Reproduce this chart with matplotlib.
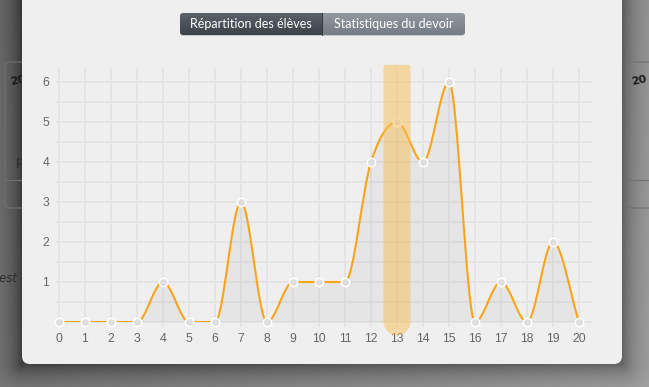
import numpy as np
import matplotlib
matplotlib.use("Agg")
import matplotlib.pyplot as plt
from matplotlib.path import Path
from matplotlib.patches import PathPatch, FancyBboxPatch, Polygon

# ---------------- data ----------------
grades = list(range(0, 21))
students = [0, 0, 0, 0, 1, 0, 0, 3, 0, 1, 1, 1, 4, 5, 4, 6, 0, 1, 0, 2, 0]
highlight_grade = 13
y_ticks = [1, 2, 3, 4, 5, 6]
tab_labels = ["Répartition des élèves", "Statistiques du devoir"]

W, H = 649, 387
fig = plt.figure(figsize=(W / 100, H / 100), dpi=100)
fig.patch.set_facecolor("#808080")

# ---------------- background (pixel coords, y down) ----------------
bg = fig.add_axes([0, 0, 1, 1])
bg.set_xlim(0, W)
bg.set_ylim(H, 0)
bg.axis("off")

px0, px1, py1 = 22, 622, 364
xx, yy = np.meshgrid(np.arange(W) + 0.5, np.arange(H) + 0.5)
dx = np.maximum(np.maximum(px0 - xx, xx - px1), 0)
dy = np.maximum(yy - py1, 0)
d = np.hypot(dx, dy)
base = 118 + 40 * (xx / W) + 10 * (yy / H)
val = base - 66 * np.exp(-d / 16.0)
img = np.clip(val, 0, 255) / 255.0
bg.imshow(np.dstack([img, img, img]), extent=(0, W, H, 0), interpolation="bilinear", zorder=0)

# faint page content behind the overlay
for (cx, cw) in [(5, 40), (627, 40)]:
    bg.add_patch(FancyBboxPatch((cx, 62), cw, 146, boxstyle="round,pad=0,rounding_size=4",
                                facecolor="none", edgecolor="#707070", lw=0.8, zorder=1))
    bg.plot([cx, cx + cw], [180, 180], color="#707070", lw=0.8, zorder=1)
bg.text(9, 80, "20", fontsize=8, fontweight="bold", color="#1a1a1a", rotation=12,
        va="center", ha="left", zorder=1)
bg.text(630, 80, "20", fontsize=8, fontweight="bold", color="#1a1a1a", rotation=12,
        va="center", ha="left", zorder=1)
bg.text(16, 161, "p", fontsize=8.5, color="#2a2a2a", va="center", ha="left", zorder=1)
bg.text(-1, 278, "est c", fontsize=8.5, style="italic", color="#2a2a2a", va="center", ha="left", zorder=1)

# modal panel
bg.add_patch(FancyBboxPatch((px0, -20), px1 - px0, py1 + 20,
                            boxstyle="round,pad=0,rounding_size=8",
                            facecolor="#efefef", edgecolor="none", zorder=2))

# segmented buttons
btn_y0, btn_y1 = 13, 35
bx0, bmid, bx1 = 180, 322, 465
bg.add_patch(FancyBboxPatch((bx0, btn_y0 + 1), bx1 - bx0, btn_y1 - btn_y0,
                            boxstyle="round,pad=0,rounding_size=3",
                            facecolor="#c8c8c8", edgecolor="none", zorder=3))

def grad_button(x0, x1, top_col, bot_col):
    g = np.linspace(0, 1, 40)[:, None]
    tc = np.array(matplotlib.colors.to_rgb(top_col))
    bc = np.array(matplotlib.colors.to_rgb(bot_col))
    arr = tc[None, None, :] * (1 - g[..., None]) + bc[None, None, :] * g[..., None]
    arr = np.repeat(arr, 2, axis=1)
    return bg.imshow(arr, extent=(x0, x1, btn_y1, btn_y0), aspect="auto", zorder=4,
                     interpolation="bilinear")

full = FancyBboxPatch((bx0, btn_y0), bx1 - bx0, btn_y1 - btn_y0,
                      boxstyle="round,pad=0,rounding_size=3",
                      facecolor="none", edgecolor="none", transform=bg.transData)
bg.add_patch(full)
im1 = grad_button(bx0, bmid, "#5c616a", "#3d4249")
im2 = grad_button(bmid, bx1, "#9297a0", "#767c85")
im1.set_clip_path(full)
im2.set_clip_path(full)
bg.plot([bmid, bmid], [btn_y0, btn_y1], color="#3a3e44", lw=0.8, zorder=5)
bg.text((bx0 + bmid) / 2, (btn_y0 + btn_y1) / 2 + 0.5, tab_labels[0], color="white",
        fontsize=9, family="Lato", ha="center", va="center", zorder=6)
bg.text((bmid + bx1) / 2, (btn_y0 + btn_y1) / 2 + 0.5, tab_labels[1], color="white",
        fontsize=9, family="Lato", ha="center", va="center", zorder=6)

# ---------------- chart ----------------
ax_l, ax_r, ax_t, ax_b = 56, 592, 68, 322
ax = fig.add_axes([ax_l / W, (H - ax_b) / H, (ax_r - ax_l) / W, (ax_b - ax_t) / H])
ax.set_facecolor("none")
for s in ax.spines.values():
    s.set_visible(False)
x_unit = 26.0
y_unit = 40.0
ax.set_xlim(-(59 - ax_l) / x_unit, (ax_r - 59) / x_unit)
ax.set_ylim(0, (ax_b - ax_t) / y_unit)

grid_col = "#e4e4e4"
xl, xr = ax.get_xlim()
yb, yt = ax.get_ylim()
for yv in np.arange(0, 6.01, 0.5):
    ax.plot([xl, xr], [yv, yv], color=grid_col, lw=1.4, zorder=1, clip_on=False,
            solid_capstyle="butt")
for xv in grades:
    ax.plot([xv, xv], [-5 / y_unit, yt], color=grid_col, lw=1.4, zorder=1, clip_on=False,
            solid_capstyle="butt")

# monotone cubic (Chart.js style) bezier through the data
xs = np.array(grades, dtype=float)
ys = np.array(students, dtype=float)
n = len(xs)
delta = np.diff(ys) / np.diff(xs)
m = np.zeros(n)
m[0] = delta[0]
m[-1] = delta[-1]
for i in range(1, n - 1):
    if np.sign(delta[i - 1]) != np.sign(delta[i]):
        m[i] = 0.0
    else:
        m[i] = (delta[i - 1] + delta[i]) / 2
for i in range(n - 1):
    if abs(delta[i]) < 1e-12:
        m[i] = m[i + 1] = 0.0
        continue
    a = m[i] / delta[i]
    b = m[i + 1] / delta[i]
    sq = a * a + b * b
    if sq <= 9:
        continue
    tau = 3 / np.sqrt(sq)
    m[i] = a * tau * delta[i]
    m[i + 1] = b * tau * delta[i]

verts = [(xs[0], ys[0])]
codes = [Path.MOVETO]
for i in range(n - 1):
    h = (xs[i + 1] - xs[i]) / 3
    verts += [(xs[i] + h, ys[i] + h * m[i]),
              (xs[i + 1] - h, ys[i + 1] - h * m[i + 1]),
              (xs[i + 1], ys[i + 1])]
    codes += [Path.CURVE4] * 3
line_path = Path(verts, codes)
fill_path = Path(verts + [(xs[-1], 0), (xs[0], 0), (xs[0], ys[0])],
                 codes + [Path.LINETO, Path.LINETO, Path.CLOSEPOLY])
ax.add_patch(PathPatch(fill_path, facecolor=(0, 0, 0, 0.04), edgecolor="none", zorder=2))
ax.add_patch(PathPatch(line_path, facecolor="none", edgecolor="#f9a51a", lw=1.5, zorder=3,
                       capstyle="round", joinstyle="round"))
ax.plot(xs, ys, linestyle="none", marker="o", markersize=6.0, markerfacecolor="#dedede",
        markeredgecolor="white", markeredgewidth=1.1, zorder=4, clip_on=False)

# ticks / labels
ax.set_xticks(grades)
ax.set_xticklabels([str(g) for g in grades])
ax.set_yticks(y_ticks)
ax.set_yticklabels([str(v) for v in y_ticks])
ax.tick_params(axis="both", length=0, labelsize=8.8, labelcolor="#666666")
ax.tick_params(axis="x", pad=8.0)
ax.tick_params(axis="y", pad=5.0)
for lab in ax.get_xticklabels() + ax.get_yticklabels():
    lab.set_family("Liberation Sans")

# highlight bar for the selected grade (display coords)
fig.canvas.draw()
hw = 0.52
(x_left, y_top) = ax.transData.transform((highlight_grade - hw, 6.43))
(x_right, y_bot) = ax.transData.transform((highlight_grade + hw, -0.33))
r = (x_right - x_left) / 2
yc = y_bot + r
rt = 2.5
pts = []
for ang in np.linspace(180, 90, 6):
    pts.append((x_left + rt + rt * np.cos(np.radians(ang)), y_top - rt + rt * np.sin(np.radians(ang))))
for ang in np.linspace(90, 0, 6):
    pts.append((x_right - rt + rt * np.cos(np.radians(ang)), y_top - rt + rt * np.sin(np.radians(ang))))
for ang in np.linspace(0, -180, 40):
    pts.append((x_left + r + r * np.cos(np.radians(ang)), yc + r * np.sin(np.radians(ang))))
bar = Polygon(pts, closed=True, facecolor="#f8c056", alpha=0.5, edgecolor="none",
              transform=None, zorder=10)
fig.add_artist(bar)

fig.savefig("out.png", dpi=100, facecolor=fig.get_facecolor())
